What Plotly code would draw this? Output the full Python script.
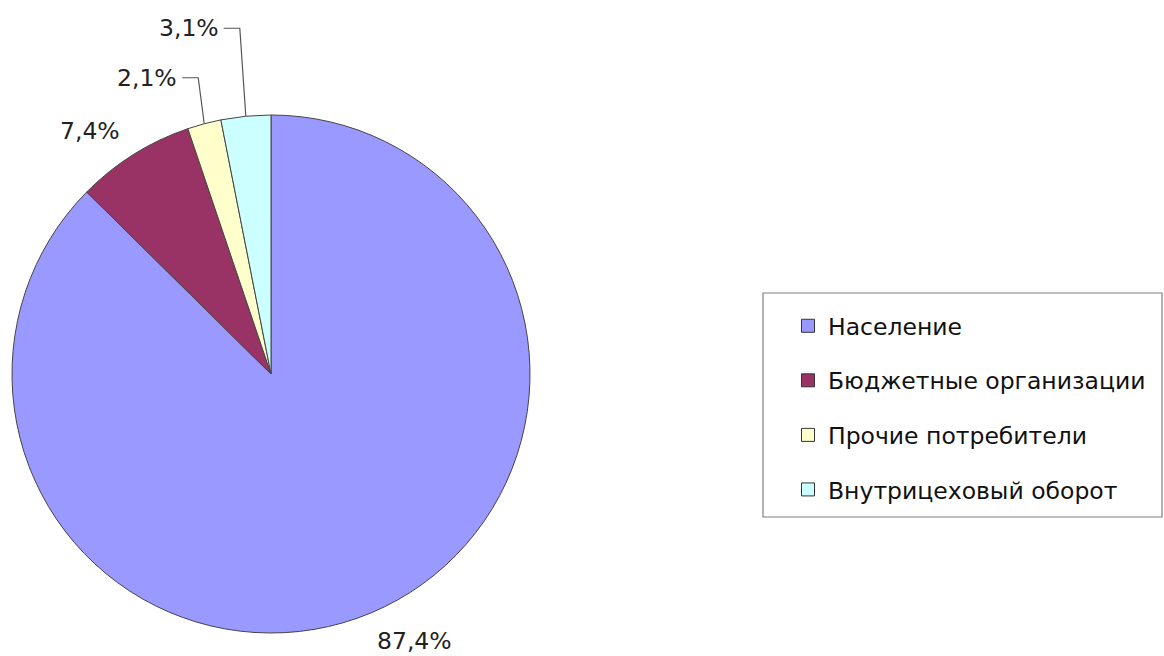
import math
import plotly.graph_objects as go

categories = ["Население", "Бюджетные организации", "Прочие потребители", "Внутрицеховый оборот"]
shares = [87.4, 7.4, 2.1, 3.1]
colors = ["#9999FF", "#993366", "#FFFFCC", "#CCFFFF"]

W, H = 1164, 656
cx, cy, R = 271, 374, 259
FONT = "DejaVu Sans"

def px(x):
    return x / W

def py(y):
    return 1 - y / H

fig = go.Figure()
fig.add_trace(go.Pie(
    labels=categories, values=shares, sort=False, direction="clockwise", rotation=0,
    marker=dict(colors=colors, line=dict(color="#444444", width=1)),
    textinfo="none", showlegend=False, hoverinfo="label+percent",
    domain=dict(x=[px(cx - R), px(cx + R)], y=[py(cy + R), py(cy - R)]),
))

# legend entries (dummy traces so the rows can be spaced)
for i, (c, col) in enumerate(zip(categories, colors)):
    fig.add_trace(go.Scatter(
        x=[None], y=[None], mode="markers", name=c, legendgroup=str(i),
        marker=dict(symbol="square", size=13, color=col, line=dict(color="#333333", width=1)),
        showlegend=True,
    ))

# percentage labels
total = sum(shares)
cum = 0.0
rise = [None, None, 46, 88]
annotations = []
shapes = []
for i, v in enumerate(shares):
    mid = (cum + v / 2) / total
    cum += v
    th = 2 * math.pi * mid
    ex, ey = cx + R * math.sin(th), cy - R * math.cos(th)
    txt = f"{v:.1f}".replace(".", ",") + "%"
    if rise[i] is None:
        th2 = th - math.radians(5.5)
        lx, ly = cx + 1.17 * R * math.sin(th2), cy - 1.17 * R * math.cos(th2)
        if i == 1:
            lx, ly = lx + 4, ly - 3
        annotations.append(dict(x=px(lx), y=py(ly), xref="paper", yref="paper", text=txt,
                                showarrow=False, xanchor="center", yanchor="middle",
                                font=dict(family=FONT, size=23.5, color="#222222")))
    else:
        ly = ey - rise[i]
        kx = ex - 6
        hx = kx - 16
        shapes.append(dict(type="path", xref="paper", yref="paper",
                           path=f"M {px(ex)} {py(ey)} L {px(kx)} {py(ly)} L {px(hx)} {py(ly)}",
                           line=dict(color="#555555", width=1.2)))
        annotations.append(dict(x=px(hx - 3), y=py(ly), xref="paper", yref="paper", text=txt,
                                showarrow=False, xanchor="right", yanchor="middle",
                                font=dict(family=FONT, size=23.5, color="#222222")))

# legend frame
shapes.append(dict(type="rect", xref="paper", yref="paper",
                   x0=px(763), x1=px(1162), y0=py(517), y1=py(293),
                   line=dict(color="#7f7f7f", width=1.2), fillcolor="rgba(0,0,0,0)"))

fig.update_layout(
    width=W, height=H,
    margin=dict(l=0, r=0, t=0, b=0),
    paper_bgcolor="white", plot_bgcolor="white",
    xaxis=dict(visible=False), yaxis=dict(visible=False),
    showlegend=True,
    legend=dict(x=px(788), y=py(304), xanchor="left", yanchor="top",
                traceorder="grouped", tracegroupgap=21,
                font=dict(family=FONT, size=23.5, color="#111111"),
                bgcolor="rgba(0,0,0,0)", borderwidth=0),
    annotations=annotations, shapes=shapes,
)

fig.write_html("out.html", config={"displayModeBar": False},
               post_script="document.body.style.margin='0';document.body.style.overflow='hidden';")
